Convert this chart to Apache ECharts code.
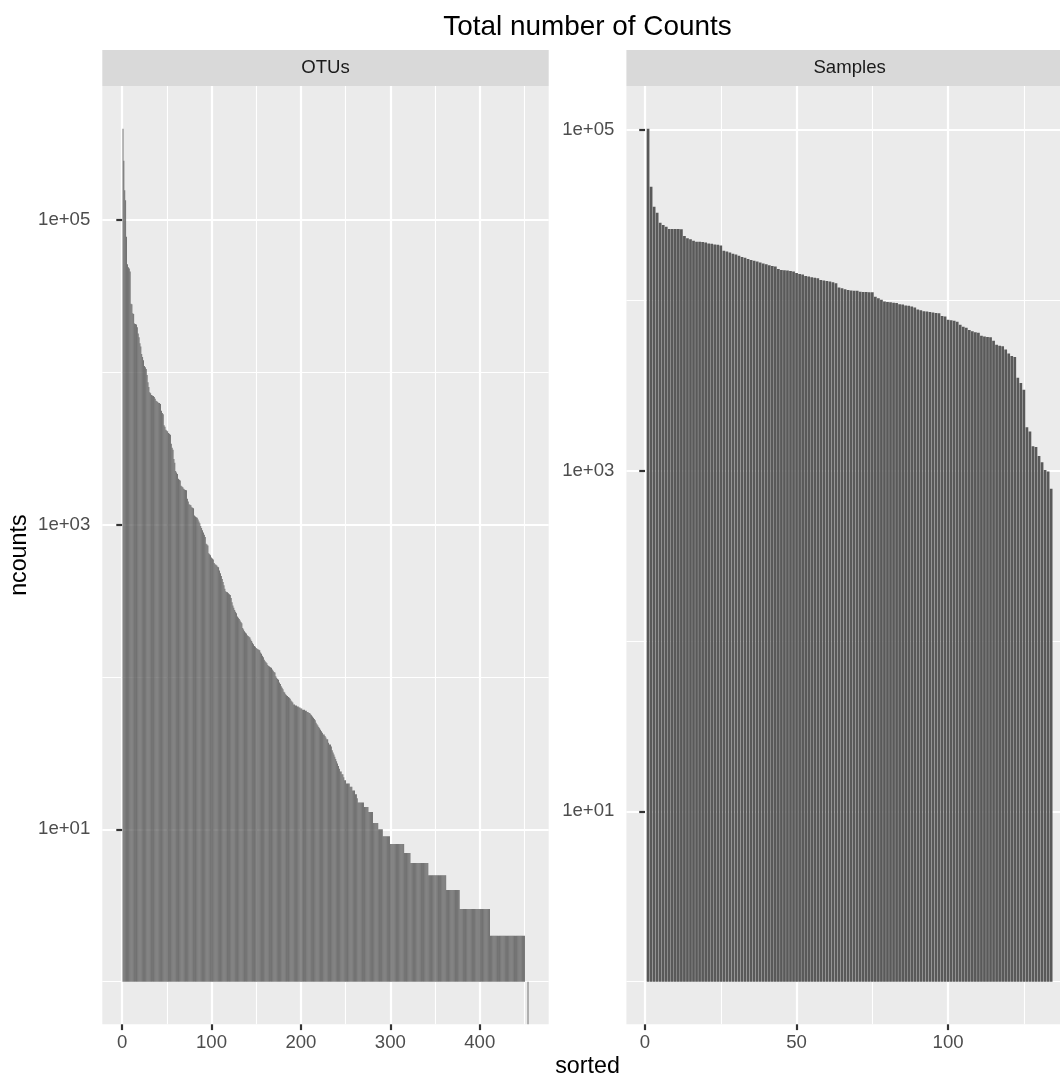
<!DOCTYPE html>
<html>
<head>
<meta charset="utf-8">
<script src="https://cdn.jsdelivr.net/npm/echarts@6/dist/echarts.min.js"></script>
<style>
  html, body { margin: 0; padding: 0; background: #ffffff; }
  #chart { width: 1060px; height: 1081px; }
</style>
</head>
<body>
<div id="chart"></div>
<script>
// Total read counts per OTU, sorted in decreasing order (rank 1..454)
const OTU_COUNTS = [
  398000, 245000, 157000, 135000, 77600, 51300, 49000, 48000, 46000, 28200,
  28000, 24400, 24200, 20900, 20800, 20600, 19800, 18000, 17000, 15500,
  14800, 13200, 12600, 12000, 11000, 10800, 10500, 9600, 8600, 8000,
  7400, 7300, 7100, 7050, 7000, 6900, 6700, 6500, 6450, 6400,
  6300, 6300, 6200, 5600, 5400, 5300, 4500, 4400, 4200, 4150,
  4100, 4000, 3950, 3900, 3400, 3200, 3100, 2700, 2550, 2250,
  2200, 2150, 2000, 1970, 1950, 1800, 1780, 1760, 1720, 1700,
  1690, 1680, 1480, 1420, 1360, 1350, 1340, 1300, 1290, 1280,
  1150, 1130, 1120, 1110, 1080, 1050, 1020, 980, 950, 920,
  890, 860, 830, 750, 740, 730, 650, 640, 630, 610,
  600, 590, 560, 550, 545, 540, 530, 525, 500, 480,
  460, 440, 420, 400, 380, 365, 362, 360, 355, 350,
  345, 330, 310, 295, 285, 275, 268, 262, 250, 245,
  240, 235, 230, 225, 210, 205, 200, 196, 193, 188,
  186, 184, 182, 176, 172, 168, 164, 160, 158, 155,
  153, 152, 151, 150, 145, 142, 138, 135, 130, 127,
  125, 123, 120, 118, 117, 116, 115, 112, 110, 108,
  107, 101, 99, 97, 96, 92, 90, 87, 85, 83,
  80, 79, 77, 76, 75, 74, 73, 72, 70, 69,
  68, 66, 66, 65, 65, 64, 64, 63, 63, 62,
  62, 61, 61, 61, 60, 60, 59, 59, 58, 58,
  57, 56, 55, 54, 53, 52, 50, 49, 48, 47,
  46, 45, 44, 43, 42, 42, 41, 40, 39, 39,
  37, 36, 36, 35, 33, 32, 31, 30, 29, 28,
  27, 26, 25, 24, 24, 23, 23, 22, 21, 21,
  20, 20, 20, 20, 19, 19, 19, 18, 18, 18,
  17, 17, 16, 15, 15, 15, 15, 15, 15, 15,
  14, 14, 14, 14, 14, 13, 13, 13, 13, 13,
  11, 11, 11, 11, 11, 11, 10, 10, 10, 10,
  10, 9, 9, 9, 9, 9, 9, 9, 9, 8,
  8, 8, 8, 8, 8, 8, 8, 8, 8, 8,
  8, 8, 8, 8, 8, 7, 7, 7, 7, 7,
  7, 7, 6, 6, 6, 6, 6, 6, 6, 6,
  6, 6, 6, 6, 6, 6, 6, 6, 6, 6,
  6, 6, 5, 5, 5, 5, 5, 5, 5, 5,
  5, 5, 5, 5, 5, 5, 5, 5, 5, 5,
  5, 5, 4, 4, 4, 4, 4, 4, 4, 4,
  4, 4, 4, 4, 4, 4, 4, 3, 3, 3,
  3, 3, 3, 3, 3, 3, 3, 3, 3, 3,
  3, 3, 3, 3, 3, 3, 3, 3, 3, 3,
  3, 3, 3, 3, 3, 3, 3, 3, 3, 3,
  3, 2, 2, 2, 2, 2, 2, 2, 2, 2,
  2, 2, 2, 2, 2, 2, 2, 2, 2, 2,
  2, 2, 2, 2, 2, 2, 2, 2, 2, 2,
  2, 2, 2, 2, 2, 2, 2, 2, 2, 2,
  1, 1, 1, 0
];

// Total read counts per sample, sorted in decreasing order (rank 1..134)
const SAMPLE_COUNTS = [
  102000, 46500, 35500, 32700, 28600, 27700, 27100, 26300, 26300, 26300,
  26300, 26200, 23900, 23200, 22900, 22400, 22100, 22100, 22000, 21900,
  21600, 21500, 21300, 21200, 21000, 19600, 19400, 19100, 18800, 18600,
  18300, 18000, 17800, 17500, 17300, 17100, 16900, 16700, 16500, 16300,
  16100, 15900, 15800, 15300, 15100, 15050, 15000, 14900, 14800, 14500,
  14300, 14200, 13900, 13800, 13700, 13600, 13500, 13200, 13100, 13000,
  12900, 12800, 12600, 11900, 11800, 11650, 11500, 11450, 11400, 11380,
  11250, 11200, 11200, 11150, 11150, 10500, 10300, 10100, 9850, 9800,
  9750, 9700, 9650, 9500, 9450, 9350, 9300, 9200, 9100, 8850,
  8750, 8650, 8600, 8550, 8500, 8450, 8400, 8100, 8050, 7700,
  7650, 7600, 7500, 7200, 7000, 6900, 6700, 6600, 6500, 6450,
  6200, 6150, 6100, 6080, 5800, 5500, 5420, 5380, 5150, 4880,
  4720, 4650, 3520, 3270, 2990, 1800, 1700, 1390, 1380, 1220,
  1120, 1010, 990, 784
];

const PANEL_NAMES = ['OTUs', 'Samples'];
const X_BREAKS = [[0, 100, 200, 300, 400], [0, 50, 100]];
const X_MINOR_BREAKS = [[50, 150, 250, 350, 450], [25, 75, 125]];
const Y_BREAKS = [10, 1000, 100000];
const Y_MINOR_BREAKS = [1, 100, 10000, 1000000];
const TITLE = 'Total number of Counts';
const X_TITLE = 'sorted';
const Y_TITLE = 'ncounts';

const FONT = '"Liberation Sans", Arial, Helvetica, sans-serif';
const BASE_SIZE = 18.6;
const BAR_FILL = '#595959';

// Panel geometry
const PANEL_TOP = 86;
const PANEL_H = 938.3;
const PANEL_W = 446.4;
const PANEL_LEFT = [102.3, 626.4];
const STRIP_H = 36;

// Continuous x range for bars at ranks 1..n, width 0.9, with 5% expansion
function xRange(n) {
  const lo = 0.55, hi = n + 0.45, pad = (hi - lo) * 0.05;
  return [lo - pad, hi + pad];
}
// Log10 y range: bars rise from 1 (10^0) to the max, with 5% expansion
function yRange(vals) {
  const top = Math.log10(Math.max.apply(null, vals));
  const pad = top * 0.05;
  return [Math.pow(10, -pad), Math.pow(10, top + pad)];
}
function sciLabel(v) {
  const e = Math.round(Math.log10(v));
  return '1e' + (e < 0 ? '-' : '+') + String(Math.abs(e)).padStart(2, '0');
}

const datasets = [OTU_COUNTS, SAMPLE_COUNTS];
const grids = [], xAxes = [], yAxes = [], series = [], graphics = [];

datasets.forEach(function (vals, p) {
  const xr = xRange(vals.length);
  const yr = yRange(vals);
  grids.push({
    left: PANEL_LEFT[p], top: PANEL_TOP, width: PANEL_W, height: PANEL_H,
    show: true, backgroundColor: '#EBEBEB', borderWidth: 0,
    outerBoundsMode: 'none', containLabel: false
  });
  // major x axis (labels, ticks, major grid)
  xAxes.push({
    type: 'value', gridIndex: p, min: xr[0], max: xr[1],
    axisLine: { show: false },
    axisTick: { show: true, length: 5.8, customValues: X_BREAKS[p], lineStyle: { color: '#333333', width: 2.2 } },
    axisLabel: { show: true, customValues: X_BREAKS[p], color: '#4D4D4D', fontSize: BASE_SIZE, fontFamily: FONT, margin: 9 },
    splitLine: { show: true, lineStyle: { color: '#FFFFFF', width: 2.2 } }
  });
  // minor x grid
  xAxes.push({
    type: 'value', gridIndex: p, min: xr[0], max: xr[1],
    axisLine: { show: false },
    axisTick: { show: false, customValues: X_MINOR_BREAKS[p] },
    axisLabel: { show: false, customValues: X_MINOR_BREAKS[p] },
    splitLine: { show: true, lineStyle: { color: '#FFFFFF', width: 1.1 } }
  });
  yAxes.push({
    type: 'log', logBase: 10, gridIndex: p, min: yr[0], max: yr[1],
    axisLine: { show: false },
    axisTick: { show: true, length: 5.8, customValues: Y_BREAKS, lineStyle: { color: '#333333', width: 2.2 } },
    axisLabel: { show: true, customValues: Y_BREAKS, formatter: sciLabel, color: '#4D4D4D', fontSize: BASE_SIZE, fontFamily: FONT, margin: 12 },
    splitLine: { show: true, lineStyle: { color: '#FFFFFF', width: 2.2 } }
  });
  yAxes.push({
    type: 'log', logBase: 10, gridIndex: p, min: yr[0], max: yr[1],
    axisLine: { show: false },
    axisTick: { show: false, customValues: Y_MINOR_BREAKS },
    axisLabel: { show: false, customValues: Y_MINOR_BREAKS },
    splitLine: { show: true, lineStyle: { color: '#FFFFFF', width: 1.1 } }
  });
  series.push({
    type: 'bar',
    xAxisIndex: p * 2, yAxisIndex: p * 2,
    barWidth: '90%', barMinWidth: 0.05,
    itemStyle: { color: BAR_FILL },
    // a zero count sits at log(0) = -Inf, i.e. the bottom of the panel
    data: vals.map(function (v, i) { return [i + 1, v > 0 ? v : yr[0]]; }),
    silent: true
  });
  // facet strip
  graphics.push({
    type: 'rect',
    shape: { x: PANEL_LEFT[p], y: PANEL_TOP - STRIP_H, width: PANEL_W, height: STRIP_H },
    style: { fill: '#D9D9D9' }
  });
  graphics.push({
    type: 'text',
    x: PANEL_LEFT[p] + PANEL_W / 2, y: PANEL_TOP - STRIP_H / 2,
    style: { text: PANEL_NAMES[p], fill: '#1A1A1A', fontSize: BASE_SIZE, fontFamily: FONT, align: 'center', verticalAlign: 'middle' }
  });
});

const plotCenterX = (PANEL_LEFT[0] + PANEL_LEFT[1] + PANEL_W) / 2;
graphics.push({
  type: 'text', x: plotCenterX, y: 27,
  style: { text: TITLE, fill: '#000000', fontSize: BASE_SIZE * 1.5, fontFamily: FONT, align: 'center', verticalAlign: 'middle' }
});
graphics.push({
  type: 'text', x: plotCenterX, y: 1067,
  style: { text: X_TITLE, fill: '#000000', fontSize: BASE_SIZE * 1.25, fontFamily: FONT, align: 'center', verticalAlign: 'middle' }
});
graphics.push({
  type: 'text', x: 20, y: PANEL_TOP + PANEL_H / 2, rotation: Math.PI / 2,
  style: { text: Y_TITLE, fill: '#000000', fontSize: BASE_SIZE * 1.25, fontFamily: FONT, align: 'center', verticalAlign: 'middle' }
});

const chart = echarts.init(document.getElementById('chart'), null, { renderer: 'canvas' });
chart.setOption({
  animation: false,
  backgroundColor: '#FFFFFF',
  grid: grids,
  xAxis: xAxes,
  yAxis: yAxes,
  series: series,
  graphic: graphics
});
</script>
</body>
</html>
